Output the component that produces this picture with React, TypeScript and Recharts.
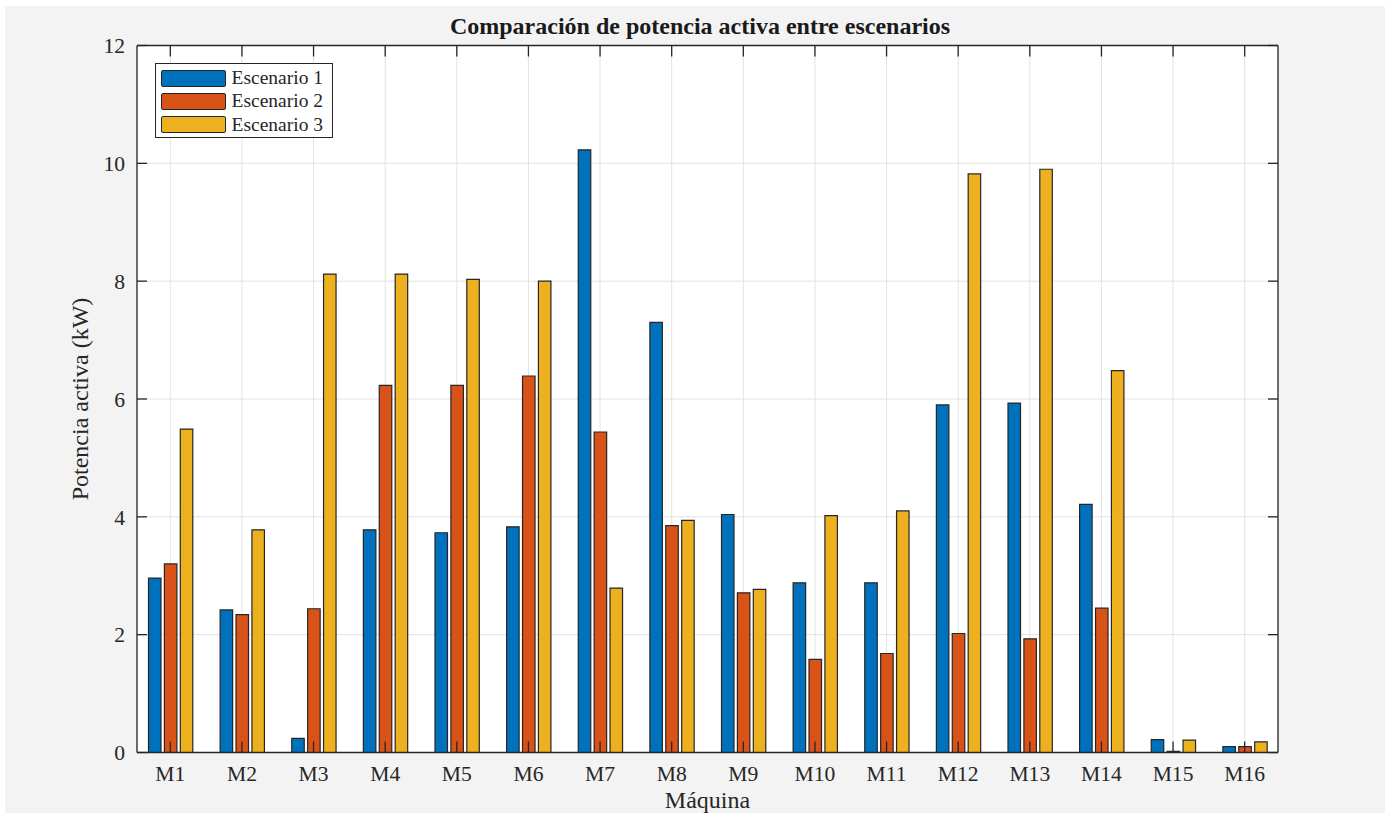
import React from 'react';
import { BarChart, Bar, XAxis, YAxis, CartesianGrid, Legend } from 'recharts';

const machines = ['M1', 'M2', 'M3', 'M4', 'M5', 'M6', 'M7', 'M8', 'M9', 'M10', 'M11', 'M12', 'M13', 'M14', 'M15', 'M16'];
const escenario1 = [2.96, 2.42, 0.24, 3.78, 3.73, 3.83, 10.23, 7.30, 4.04, 2.88, 2.88, 5.90, 5.93, 4.21, 0.22, 0.10];
const escenario2 = [3.20, 2.34, 2.44, 6.23, 6.23, 6.39, 5.44, 3.85, 2.71, 1.58, 1.68, 2.02, 1.93, 2.45, 0.02, 0.10];
const escenario3 = [5.49, 3.78, 8.12, 8.12, 8.03, 8.00, 2.79, 3.94, 2.77, 4.02, 4.10, 9.82, 9.90, 6.48, 0.21, 0.18];
const yTicks = [0, 2, 4, 6, 8, 10, 12];
const seriesNames = ['Escenario 1', 'Escenario 2', 'Escenario 3'];
const seriesColors = ['#0072BD', '#D95319', '#EDB120'];
const titleText = 'Comparación de potencia activa entre escenarios';
const xLabel = 'Máquina';
const yLabel = 'Potencia activa (kW)';

const data = machines.map((m, i) => ({ name: m, e1: escenario1[i], e2: escenario2[i], e3: escenario3[i] }));

const FONT = '"Liberation Serif", "Times New Roman", serif';
const INK = '#262626';

function LegendBox(props: any) {
  const payload = props.payload || [];
  return (
    <div
      style={{
        width: 178,
        height: 75,
        boxSizing: 'border-box',
        border: `1.3px solid ${INK}`,
        background: '#fff',
        fontFamily: FONT,
        fontSize: 19.5,
        color: INK,
        padding: '3px 0 0 4.5px',
      }}
    >
      {payload.map((p: any) => (
        <div key={p.value} style={{ display: 'flex', alignItems: 'center', height: 23.2 }}>
          <span
            style={{
              display: 'inline-block',
              width: 65,
              height: 17,
              background: p.color,
              border: `1.3px solid ${INK}`,
              boxSizing: 'border-box',
              borderRadius: 2,
              marginRight: 6,
            }}
          />
          <span style={{ lineHeight: '20px' }}>{p.value}</span>
        </div>
      ))}
    </div>
  );
}

export default function App() {
  const tickStyle = { fontFamily: FONT, fontSize: 21.6, fill: INK };
  const lineStyle = { stroke: INK, strokeWidth: 1.3 };
  return (
    <div style={{ position: 'absolute', left: 0, top: 0, width: 1385, height: 814, background: '#fff', overflow: 'hidden' }}>
      <div style={{ position: 'absolute', left: 5, top: 6, width: 1380, height: 807, background: '#f3f3f3' }} />
      <div style={{ position: 'absolute', left: 0, top: 0 }}>
        <BarChart
          width={1385}
          height={814}
          data={data}
          margin={{ top: 44.5, right: 97, bottom: 21.5, left: 67 }}
          barGap={3.4}
        >
          <CartesianGrid stroke="#e2e2e2" strokeWidth={1} fill="#ffffff" fillOpacity={1} />
          <XAxis
            dataKey="name"
            interval={0}
            height={40}
            tickSize={-11}
            tickMargin={24}
            tick={tickStyle}
            axisLine={lineStyle}
            tickLine={lineStyle}
            padding={{ left: -2.5, right: -2.5 }}
          />
          <XAxis
            xAxisId="top"
            orientation="top"
            dataKey="name"
            interval={0}
            height={1}
            tickSize={-11}
            tickFormatter={() => ''}
            axisLine={lineStyle}
            tickLine={lineStyle}
            padding={{ left: -2.5, right: -2.5 }}
          />
          <YAxis
            domain={[0, 12]}
            ticks={yTicks}
            width={70}
            tickSize={-10}
            tickMargin={22}
            tick={tickStyle}
            axisLine={lineStyle}
            tickLine={lineStyle}
            allowDataOverflow
          />
          <YAxis
            yAxisId="right"
            orientation="right"
            type="number"
            domain={[0, 12]}
            ticks={yTicks}
            width={10}
            tickSize={-10}
            tickFormatter={() => ''}
            axisLine={lineStyle}
            tickLine={lineStyle}
            allowDataOverflow
          />
          <Legend
            layout="vertical"
            align="center"
            verticalAlign="middle"
            content={<LegendBox />}
            wrapperStyle={{ position: 'absolute', left: 155, top: 62.7, width: 178, height: 75 }}
          />
          <Bar dataKey="e1" name={seriesNames[0]} fill={seriesColors[0]} stroke={INK} strokeWidth={1.2} barSize={12.5} isAnimationActive={false} />
          <Bar dataKey="e2" name={seriesNames[1]} fill={seriesColors[1]} stroke={INK} strokeWidth={1.2} barSize={12.5} isAnimationActive={false} />
          <Bar dataKey="e3" name={seriesNames[2]} fill={seriesColors[2]} stroke={INK} strokeWidth={1.2} barSize={12.5} isAnimationActive={false} />
        </BarChart>
      </div>
      <div
        style={{
          position: 'absolute',
          left: 0,
          top: 14,
          width: 1400,
          textAlign: 'center',
          fontFamily: FONT,
          fontWeight: 700,
          fontSize: 24,
          lineHeight: '24px',
          color: '#1a1a1a',
          whiteSpace: 'nowrap',
        }}
      >
        {titleText}
      </div>
      <div
        style={{
          position: 'absolute',
          left: 307.5,
          top: 788,
          width: 800,
          textAlign: 'center',
          fontFamily: FONT,
          fontSize: 24,
          lineHeight: '24px',
          color: INK,
          whiteSpace: 'nowrap',
        }}
      >
        {xLabel}
      </div>
      <div
        style={{
          position: 'absolute',
          left: -120.4,
          top: 387,
          width: 400,
          height: 24,
          textAlign: 'center',
          fontFamily: FONT,
          fontSize: 24,
          lineHeight: '24px',
          color: INK,
          whiteSpace: 'nowrap',
          transform: 'rotate(-90deg)',
        }}
      >
        {yLabel}
      </div>
    </div>
  );
}
